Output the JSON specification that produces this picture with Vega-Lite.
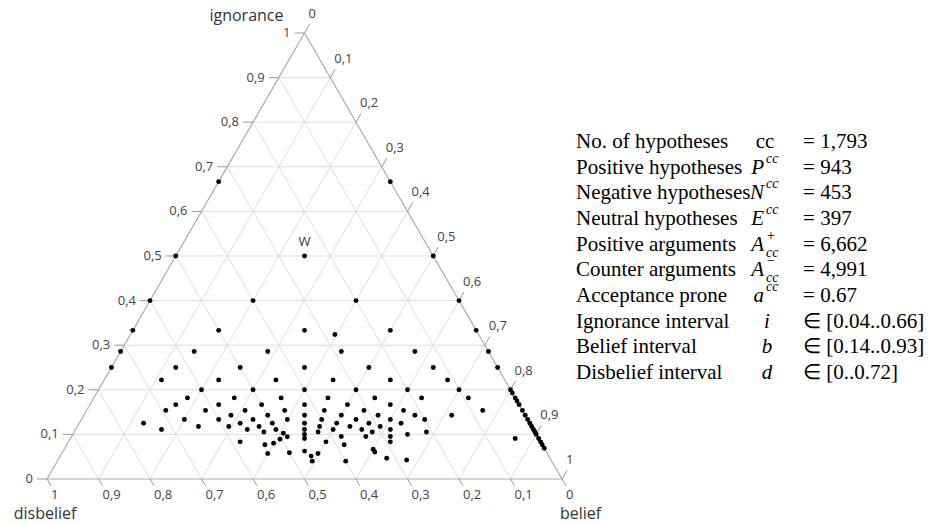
{
  "$schema": "https://vega.github.io/schema/vega-lite/v6.json",
  "width": 934,
  "height": 523,
  "padding": 0,
  "autosize": {"type": "fit", "contains": "padding"},
  "background": "white",
  "config": {"view": {"stroke": null}},
  "datasets": {
    "grid": [
      {"axis": "ign", "v": 0}, {"axis": "ign", "v": 0.1}, {"axis": "ign", "v": 0.2}, {"axis": "ign", "v": 0.3}, {"axis": "ign", "v": 0.4}, {"axis": "ign", "v": 0.5}, {"axis": "ign", "v": 0.6}, {"axis": "ign", "v": 0.7}, {"axis": "ign", "v": 0.8}, {"axis": "ign", "v": 0.9},
      {"axis": "bel", "v": 0}, {"axis": "bel", "v": 0.1}, {"axis": "bel", "v": 0.2}, {"axis": "bel", "v": 0.3}, {"axis": "bel", "v": 0.4}, {"axis": "bel", "v": 0.5}, {"axis": "bel", "v": 0.6}, {"axis": "bel", "v": 0.7}, {"axis": "bel", "v": 0.8}, {"axis": "bel", "v": 0.9},
      {"axis": "dis", "v": 0}, {"axis": "dis", "v": 0.1}, {"axis": "dis", "v": 0.2}, {"axis": "dis", "v": 0.3}, {"axis": "dis", "v": 0.4}, {"axis": "dis", "v": 0.5}, {"axis": "dis", "v": 0.6}, {"axis": "dis", "v": 0.7}, {"axis": "dis", "v": 0.8}, {"axis": "dis", "v": 0.9}
    ],
    "ticks": [
      {"axis": "ign", "v": 0, "label": "0"}, {"axis": "ign", "v": 0.1, "label": "0,1"}, {"axis": "ign", "v": 0.2, "label": "0,2"}, {"axis": "ign", "v": 0.3, "label": "0,3"}, {"axis": "ign", "v": 0.4, "label": "0,4"}, {"axis": "ign", "v": 0.5, "label": "0,5"}, {"axis": "ign", "v": 0.6, "label": "0,6"}, {"axis": "ign", "v": 0.7, "label": "0,7"}, {"axis": "ign", "v": 0.8, "label": "0,8"}, {"axis": "ign", "v": 0.9, "label": "0,9"}, {"axis": "ign", "v": 1, "label": "1"},
      {"axis": "bel", "v": 0, "label": "0"}, {"axis": "bel", "v": 0.1, "label": "0,1"}, {"axis": "bel", "v": 0.2, "label": "0,2"}, {"axis": "bel", "v": 0.3, "label": "0,3"}, {"axis": "bel", "v": 0.4, "label": "0,4"}, {"axis": "bel", "v": 0.5, "label": "0,5"}, {"axis": "bel", "v": 0.6, "label": "0,6"}, {"axis": "bel", "v": 0.7, "label": "0,7"}, {"axis": "bel", "v": 0.8, "label": "0,8"}, {"axis": "bel", "v": 0.9, "label": "0,9"}, {"axis": "bel", "v": 1, "label": "1"},
      {"axis": "dis", "v": 0, "label": "0"}, {"axis": "dis", "v": 0.1, "label": "0,1"}, {"axis": "dis", "v": 0.2, "label": "0,2"}, {"axis": "dis", "v": 0.3, "label": "0,3"}, {"axis": "dis", "v": 0.4, "label": "0,4"}, {"axis": "dis", "v": 0.5, "label": "0,5"}, {"axis": "dis", "v": 0.6, "label": "0,6"}, {"axis": "dis", "v": 0.7, "label": "0,7"}, {"axis": "dis", "v": 0.8, "label": "0,8"}, {"axis": "dis", "v": 0.9, "label": "0,9"}, {"axis": "dis", "v": 1, "label": "1"}
    ],
    "titles": [
      {"title": "ignorance", "bel": 0, "dis": 0, "ign": 1},
      {"title": "disbelief", "bel": 0, "dis": 1, "ign": 0},
      {"title": "belief", "bel": 1, "dis": 0, "ign": 0},
      {"title": "W", "bel": 0.25, "dis": 0.25, "ign": 0.5}
    ],
    "points": [
      {"bel": 0, "dis": 0.3333, "ign": 0.6667}, {"bel": 0.3333, "dis": 0, "ign": 0.6667},
      {"bel": 0, "dis": 0.5, "ign": 0.5}, {"bel": 0.25, "dis": 0.25, "ign": 0.5}, {"bel": 0.5, "dis": 0, "ign": 0.5},
      {"bel": 0, "dis": 0.6, "ign": 0.4}, {"bel": 0.2, "dis": 0.4, "ign": 0.4}, {"bel": 0.4, "dis": 0.2, "ign": 0.4}, {"bel": 0.6, "dis": 0, "ign": 0.4},
      {"bel": 0, "dis": 0.6667, "ign": 0.3333}, {"bel": 0.1667, "dis": 0.5, "ign": 0.3333}, {"bel": 0.3333, "dis": 0.3333, "ign": 0.3333}, {"bel": 0.5, "dis": 0.1667, "ign": 0.3333}, {"bel": 0.6667, "dis": 0, "ign": 0.3333},
      {"bel": 0.397, "dis": 0.279, "ign": 0.324},
      {"bel": 0, "dis": 0.7143, "ign": 0.2857}, {"bel": 0.1429, "dis": 0.5714, "ign": 0.2857}, {"bel": 0.2857, "dis": 0.4286, "ign": 0.2857}, {"bel": 0.4286, "dis": 0.2857, "ign": 0.2857}, {"bel": 0.5714, "dis": 0.1429, "ign": 0.2857}, {"bel": 0.7143, "dis": 0, "ign": 0.2857},
      {"bel": 0, "dis": 0.75, "ign": 0.25}, {"bel": 0.125, "dis": 0.625, "ign": 0.25}, {"bel": 0.25, "dis": 0.5, "ign": 0.25}, {"bel": 0.375, "dis": 0.375, "ign": 0.25}, {"bel": 0.5, "dis": 0.25, "ign": 0.25}, {"bel": 0.625, "dis": 0.125, "ign": 0.25}, {"bel": 0.75, "dis": 0, "ign": 0.25},
      {"bel": 0.1111, "dis": 0.6667, "ign": 0.2222}, {"bel": 0.2222, "dis": 0.5556, "ign": 0.2222}, {"bel": 0.3333, "dis": 0.4444, "ign": 0.2222}, {"bel": 0.4444, "dis": 0.3333, "ign": 0.2222}, {"bel": 0.5556, "dis": 0.2222, "ign": 0.2222}, {"bel": 0.6667, "dis": 0.1111, "ign": 0.2222},
      {"bel": 0.2, "dis": 0.6, "ign": 0.2}, {"bel": 0.3, "dis": 0.5, "ign": 0.2}, {"bel": 0.4, "dis": 0.4, "ign": 0.2}, {"bel": 0.5, "dis": 0.3, "ign": 0.2}, {"bel": 0.6, "dis": 0.2, "ign": 0.2}, {"bel": 0.7, "dis": 0.1, "ign": 0.2}, {"bel": 0.8, "dis": 0, "ign": 0.2},
      {"bel": 0.8072, "dis": 0, "ign": 0.1928},
      {"bel": 0.1818, "dis": 0.6364, "ign": 0.1818}, {"bel": 0.2727, "dis": 0.5455, "ign": 0.1818}, {"bel": 0.3636, "dis": 0.4545, "ign": 0.1818}, {"bel": 0.4545, "dis": 0.3636, "ign": 0.1818}, {"bel": 0.5455, "dis": 0.2727, "ign": 0.1818}, {"bel": 0.6364, "dis": 0.1818, "ign": 0.1818}, {"bel": 0.7273, "dis": 0.0909, "ign": 0.1818}, {"bel": 0.8182, "dis": 0, "ign": 0.1818},
      {"bel": 0.8251, "dis": 0, "ign": 0.1749},
      {"bel": 0.1667, "dis": 0.6667, "ign": 0.1667}, {"bel": 0.25, "dis": 0.5833, "ign": 0.1667}, {"bel": 0.3333, "dis": 0.5, "ign": 0.1667}, {"bel": 0.4167, "dis": 0.4167, "ign": 0.1667}, {"bel": 0.5, "dis": 0.3333, "ign": 0.1667}, {"bel": 0.5833, "dis": 0.25, "ign": 0.1667}, {"bel": 0.8333, "dis": 0, "ign": 0.1667},
      {"bel": 0.1538, "dis": 0.6923, "ign": 0.1538}, {"bel": 0.2308, "dis": 0.6154, "ign": 0.1538}, {"bel": 0.3077, "dis": 0.5385, "ign": 0.1538}, {"bel": 0.3846, "dis": 0.4615, "ign": 0.1538}, {"bel": 0.4615, "dis": 0.3846, "ign": 0.1538}, {"bel": 0.5385, "dis": 0.3077, "ign": 0.1538}, {"bel": 0.6154, "dis": 0.2308, "ign": 0.1538}, {"bel": 0.7692, "dis": 0.0769, "ign": 0.1538}, {"bel": 0.8462, "dis": 0, "ign": 0.1538},
      {"bel": 0.2857, "dis": 0.5714, "ign": 0.1429}, {"bel": 0.3571, "dis": 0.5, "ign": 0.1429}, {"bel": 0.4286, "dis": 0.4286, "ign": 0.1429}, {"bel": 0.5, "dis": 0.3571, "ign": 0.1429}, {"bel": 0.5714, "dis": 0.2857, "ign": 0.1429}, {"bel": 0.6429, "dis": 0.2143, "ign": 0.1429}, {"bel": 0.7143, "dis": 0.1429, "ign": 0.1429}, {"bel": 0.8571, "dis": 0, "ign": 0.1429},
      {"bel": 0.2, "dis": 0.6667, "ign": 0.1333}, {"bel": 0.2667, "dis": 0.6, "ign": 0.1333}, {"bel": 0.3333, "dis": 0.5333, "ign": 0.1333}, {"bel": 0.4, "dis": 0.4667, "ign": 0.1333}, {"bel": 0.4667, "dis": 0.4, "ign": 0.1333}, {"bel": 0.5333, "dis": 0.3333, "ign": 0.1333}, {"bel": 0.6, "dis": 0.2667, "ign": 0.1333}, {"bel": 0.6667, "dis": 0.2, "ign": 0.1333}, {"bel": 0.8667, "dis": 0, "ign": 0.1333},
      {"bel": 0.125, "dis": 0.75, "ign": 0.125}, {"bel": 0.3125, "dis": 0.5625, "ign": 0.125}, {"bel": 0.375, "dis": 0.5, "ign": 0.125}, {"bel": 0.4375, "dis": 0.4375, "ign": 0.125}, {"bel": 0.5, "dis": 0.375, "ign": 0.125}, {"bel": 0.5625, "dis": 0.3125, "ign": 0.125}, {"bel": 0.625, "dis": 0.25, "ign": 0.125}, {"bel": 0.875, "dis": 0, "ign": 0.125},
      {"bel": 0.2353, "dis": 0.6471, "ign": 0.1176}, {"bel": 0.2941, "dis": 0.5882, "ign": 0.1176}, {"bel": 0.3529, "dis": 0.5294, "ign": 0.1176}, {"bel": 0.4706, "dis": 0.4118, "ign": 0.1176}, {"bel": 0.5294, "dis": 0.3529, "ign": 0.1176}, {"bel": 0.5882, "dis": 0.2941, "ign": 0.1176}, {"bel": 0.8824, "dis": 0, "ign": 0.1176},
      {"bel": 0.1667, "dis": 0.7222, "ign": 0.1111}, {"bel": 0.3333, "dis": 0.5556, "ign": 0.1111}, {"bel": 0.3889, "dis": 0.5, "ign": 0.1111}, {"bel": 0.4444, "dis": 0.4444, "ign": 0.1111}, {"bel": 0.5, "dis": 0.3889, "ign": 0.1111}, {"bel": 0.5556, "dis": 0.3333, "ign": 0.1111}, {"bel": 0.6111, "dis": 0.2778, "ign": 0.1111}, {"bel": 0.8889, "dis": 0, "ign": 0.1111},
      {"bel": 0.3684, "dis": 0.5263, "ign": 0.1053}, {"bel": 0.4737, "dis": 0.4211, "ign": 0.1053}, {"bel": 0.5789, "dis": 0.3158, "ign": 0.1053}, {"bel": 0.6842, "dis": 0.2105, "ign": 0.1053}, {"bel": 0.8947, "dis": 0, "ign": 0.1053},
      {"bel": 0.4076, "dis": 0.4899, "ign": 0.1025},
      {"bel": 0.45, "dis": 0.45, "ign": 0.1}, {"bel": 0.65, "dis": 0.25, "ign": 0.1}, {"bel": 0.9, "dis": 0, "ign": 0.1},
      {"bel": 0.4192, "dis": 0.486, "ign": 0.0948},
      {"bel": 0.5238, "dis": 0.381, "ign": 0.0952}, {"bel": 0.5714, "dis": 0.3333, "ign": 0.0952}, {"bel": 0.619, "dis": 0.2857, "ign": 0.0952},
      {"bel": 0.4545, "dis": 0.4545, "ign": 0.0909}, {"bel": 0.8636, "dis": 0.0455, "ign": 0.0909}, {"bel": 0.9091, "dis": 0, "ign": 0.0909},
      {"bel": 0.4079, "dis": 0.5031, "ign": 0.089},
      {"bel": 0.3333, "dis": 0.5833, "ign": 0.0833}, {"bel": 0.5, "dis": 0.4167, "ign": 0.0833}, {"bel": 0.625, "dis": 0.2917, "ign": 0.0833}, {"bel": 0.9167, "dis": 0, "ign": 0.0833},
      {"bel": 0.4, "dis": 0.52, "ign": 0.08},
      {"bel": 0.3846, "dis": 0.5385, "ign": 0.0769}, {"bel": 0.5385, "dis": 0.3846, "ign": 0.0769}, {"bel": 0.9231, "dis": 0, "ign": 0.0769},
      {"bel": 0.931, "dis": 0, "ign": 0.069},
      {"bel": 0.6, "dis": 0.3333, "ign": 0.0667},
      {"bel": 0.4688, "dis": 0.4688, "ign": 0.0625},
      {"bel": 0.6061, "dis": 0.3333, "ign": 0.0606},
      {"bel": 0.4412, "dis": 0.5, "ign": 0.0588},
      {"bel": 0.4976, "dis": 0.4452, "ign": 0.0572},
      {"bel": 0.4, "dis": 0.5429, "ign": 0.0571},
      {"bel": 0.4872, "dis": 0.4615, "ign": 0.0513},
      {"bel": 0.6364, "dis": 0.3172, "ign": 0.0464}, {"bel": 0.677, "dis": 0.2803, "ign": 0.0426}, {"bel": 0.56, "dis": 0.4, "ign": 0.04}, {"bel": 0.495, "dis": 0.465, "ign": 0.04}
    ],
    "stats": [
      {"row": 0, "label": "No. of hypotheses", "sym": "cc", "val": "= 1,793"},
      {"row": 1, "label": "Positive hypotheses", "sym": "P", "sup": "cc", "val": "= 943"},
      {"row": 2, "label": "Negative hypotheses", "sym": "N", "sup": "cc", "val": "= 453"},
      {"row": 3, "label": "Neutral hypotheses", "sym": "E", "sup": "cc", "val": "= 397"},
      {"row": 4, "label": "Positive arguments", "sym": "A", "sup": "+", "sub": "cc", "val": "= 6,662"},
      {"row": 5, "label": "Counter arguments", "sym": "A", "sup": "−", "sub": "cc", "val": "= 4,991"},
      {"row": 6, "label": "Acceptance prone", "sym": "a", "sup": "cc", "val": "= 0.67"},
      {"row": 7, "label": "Ignorance interval", "sym": "i", "val": "∈ [0.04..0.66]"},
      {"row": 8, "label": "Belief interval", "sym": "b", "val": "∈ [0.14..0.93]"},
      {"row": 9, "label": "Disbelief interval", "sym": "d", "val": "∈ [0..0.72]"}
    ]
  },
  "layer": [
    {
      "encoding": {
        "x": {"field": "x", "type": "quantitative", "scale": {"domain": [-0.0913, 1.7223], "nice": false, "zero": false}, "axis": null},
        "y": {"field": "y", "type": "quantitative", "scale": {"domain": [-0.0987, 1.074], "nice": false, "zero": false}, "axis": null}
      },
      "layer": [
        {
          "data": {"name": "grid"},
          "transform": [
            {"filter": "datum.v > 0"},
            {"calculate": "datum.axis == 'ign' ? datum.v / 2 : (datum.axis == 'bel' ? datum.v : 1 - datum.v)", "as": "x"},
            {"calculate": "datum.axis == 'ign' ? datum.v : 0", "as": "y"},
            {"calculate": "datum.axis == 'ign' ? 1 - datum.v / 2 : (datum.axis == 'bel' ? (1 + datum.v) / 2 : (1 - datum.v) / 2)", "as": "x2"},
            {"calculate": "datum.axis == 'ign' ? datum.v : 1 - datum.v", "as": "y2"}
          ],
          "mark": {"type": "rule", "color": "#dedede", "strokeWidth": 1},
          "encoding": {"x2": {"field": "x2"}, "y2": {"field": "y2"}}
        },
        {
          "data": {"name": "grid"},
          "transform": [
            {"filter": "datum.v == 0"},
            {"calculate": "datum.axis == 'ign' ? datum.v / 2 : (datum.axis == 'bel' ? datum.v : 1 - datum.v)", "as": "x"},
            {"calculate": "datum.axis == 'ign' ? datum.v : 0", "as": "y"},
            {"calculate": "datum.axis == 'ign' ? 1 - datum.v / 2 : (datum.axis == 'bel' ? (1 + datum.v) / 2 : (1 - datum.v) / 2)", "as": "x2"},
            {"calculate": "datum.axis == 'ign' ? datum.v : 1 - datum.v", "as": "y2"}
          ],
          "mark": {"type": "rule", "color": "#ababab", "strokeWidth": 1.2},
          "encoding": {"x2": {"field": "x2"}, "y2": {"field": "y2"}}
        },
        {
          "data": {"name": "ticks"},
          "transform": [
            {"calculate": "datum.axis == 'ign' ? datum.v / 2 : (datum.axis == 'bel' ? (1 + datum.v) / 2 : 1 - datum.v)", "as": "x"},
            {"calculate": "datum.axis == 'ign' ? datum.v : (datum.axis == 'bel' ? 1 - datum.v : 0)", "as": "y"},
            {"calculate": "datum.axis == 'ign' ? datum.x - 0.0194 : (datum.axis == 'bel' ? datum.x + 0.0097 : datum.x + 0.0078)", "as": "x2"},
            {"calculate": "datum.axis == 'ign' ? datum.y : (datum.axis == 'bel' ? datum.y + 0.0194 : datum.y - 0.0155)", "as": "y2"}
          ],
          "mark": {"type": "rule", "color": "#999999", "strokeWidth": 1},
          "encoding": {"x2": {"field": "x2"}, "y2": {"field": "y2"}}
        },
        {
          "data": {"name": "ticks"},
          "transform": [
            {"filter": "datum.axis == 'ign'"},
            {"calculate": "datum.v / 2", "as": "x"},
            {"calculate": "datum.v", "as": "y"}
          ],
          "mark": {"type": "text", "align": "right", "baseline": "middle", "dx": -14, "font": "Open Sans", "fontSize": 13, "color": "#444444"},
          "encoding": {"text": {"field": "label"}}
        },
        {
          "data": {"name": "ticks"},
          "transform": [
            {"filter": "datum.axis == 'bel'"},
            {"calculate": "(1 + datum.v) / 2", "as": "x"},
            {"calculate": "1 - datum.v", "as": "y"}
          ],
          "mark": {"type": "text", "align": "left", "baseline": "middle", "dx": 4, "dy": -19, "font": "Open Sans", "fontSize": 13, "color": "#444444"},
          "encoding": {"text": {"field": "label"}}
        },
        {
          "data": {"name": "ticks"},
          "transform": [
            {"filter": "datum.axis == 'dis'"},
            {"calculate": "1 - datum.v", "as": "x"},
            {"calculate": "0", "as": "y"}
          ],
          "mark": {"type": "text", "align": "left", "baseline": "middle", "dx": 4, "dy": 16, "font": "Open Sans", "fontSize": 13, "color": "#444444"},
          "encoding": {"text": {"field": "label"}}
        },
        {
          "data": {"name": "titles"},
          "transform": [
            {"filter": "datum.title == 'ignorance'"},
            {"calculate": "datum.bel + datum.ign / 2", "as": "x"},
            {"calculate": "datum.ign", "as": "y"}
          ],
          "mark": {"type": "text", "align": "right", "baseline": "alphabetic", "dx": -21, "dy": -12, "font": "Open Sans", "fontSize": 16, "color": "#333333"},
          "encoding": {"text": {"field": "title"}}
        },
        {
          "data": {"name": "titles"},
          "transform": [
            {"filter": "datum.title == 'disbelief'"},
            {"calculate": "datum.bel + datum.ign / 2", "as": "x"},
            {"calculate": "datum.ign", "as": "y"}
          ],
          "mark": {"type": "text", "align": "center", "baseline": "alphabetic", "dx": -2, "dy": 40, "font": "Open Sans", "fontSize": 16, "color": "#333333"},
          "encoding": {"text": {"field": "title"}}
        },
        {
          "data": {"name": "titles"},
          "transform": [
            {"filter": "datum.title == 'belief'"},
            {"calculate": "datum.bel + datum.ign / 2", "as": "x"},
            {"calculate": "datum.ign", "as": "y"}
          ],
          "mark": {"type": "text", "align": "left", "baseline": "alphabetic", "dx": -2, "dy": 40, "font": "Open Sans", "fontSize": 16, "color": "#333333"},
          "encoding": {"text": {"field": "title"}}
        },
        {
          "data": {"name": "titles"},
          "transform": [
            {"filter": "datum.title == 'W'"},
            {"calculate": "datum.bel + datum.ign / 2", "as": "x"},
            {"calculate": "datum.ign", "as": "y"}
          ],
          "mark": {"type": "text", "align": "center", "baseline": "middle", "dy": -14, "font": "Open Sans", "fontSize": 13, "color": "#333333"},
          "encoding": {"text": {"field": "title"}}
        },
        {
          "data": {"name": "points"},
          "transform": [
            {"calculate": "datum.bel + datum.ign / 2", "as": "x"},
            {"calculate": "datum.ign", "as": "y"}
          ],
          "mark": {"type": "circle", "color": "black", "opacity": 1, "size": 24}
        }
      ]
    },
    {
      "data": {"name": "stats"},
      "encoding": {
        "y": {"field": "row", "type": "quantitative", "scale": {"domain": [-5.53, 14.84], "reverse": true, "nice": false, "zero": false}, "axis": null}
      },
      "layer": [
        {
          "mark": {"type": "text", "align": "left", "baseline": "middle", "font": "Liberation Serif", "fontSize": 21, "color": "black"},
          "encoding": {"x": {"datum": 1.0272, "type": "quantitative", "scale": {"domain": [-0.0913, 1.7223], "nice": false, "zero": false}, "axis": null}, "text": {"field": "label"}}
        },
        {
          "transform": [{"filter": "datum.row == 0"}],
          "mark": {"type": "text", "align": "center", "baseline": "middle", "font": "Liberation Serif", "fontSize": 21, "color": "black"},
          "encoding": {"x": {"datum": 1.3942, "type": "quantitative", "scale": {"domain": [-0.0913, 1.7223], "nice": false, "zero": false}, "axis": null}, "text": {"field": "sym"}}
        },
        {
          "transform": [{"filter": "datum.row >= 7"}],
          "mark": {"type": "text", "align": "center", "baseline": "middle", "font": "Liberation Serif", "fontSize": 21, "fontStyle": "italic", "color": "black"},
          "encoding": {"x": {"datum": 1.3981, "type": "quantitative", "scale": {"domain": [-0.0913, 1.7223], "nice": false, "zero": false}, "axis": null}, "text": {"field": "sym"}}
        },
        {
          "transform": [{"filter": "datum.sup"}],
          "mark": {"type": "text", "align": "right", "baseline": "middle", "font": "Liberation Serif", "fontSize": 21, "fontStyle": "italic", "color": "black"},
          "encoding": {"x": {"datum": 1.3922, "type": "quantitative", "scale": {"domain": [-0.0913, 1.7223], "nice": false, "zero": false}, "axis": null}, "text": {"field": "sym"}}
        },
        {
          "transform": [{"filter": "datum.sup"}],
          "mark": {"type": "text", "align": "left", "baseline": "middle", "font": "Liberation Serif", "fontSize": 14, "fontStyle": "italic", "dy": -9, "color": "black"},
          "encoding": {"x": {"datum": 1.3961, "type": "quantitative", "scale": {"domain": [-0.0913, 1.7223], "nice": false, "zero": false}, "axis": null}, "text": {"field": "sup"}}
        },
        {
          "transform": [{"filter": "datum.sub"}],
          "mark": {"type": "text", "align": "left", "baseline": "middle", "font": "Liberation Serif", "fontSize": 14, "fontStyle": "italic", "dy": 8, "color": "black"},
          "encoding": {"x": {"datum": 1.3961, "type": "quantitative", "scale": {"domain": [-0.0913, 1.7223], "nice": false, "zero": false}, "axis": null}, "text": {"field": "sub"}}
        },
        {
          "mark": {"type": "text", "align": "left", "baseline": "middle", "font": "Liberation Serif", "fontSize": 21, "color": "black"},
          "encoding": {"x": {"datum": 1.468, "type": "quantitative", "scale": {"domain": [-0.0913, 1.7223], "nice": false, "zero": false}, "axis": null}, "text": {"field": "val"}}
        }
      ]
    }
  ],
  "resolve": {"scale": {"x": "independent", "y": "independent"}}
}
